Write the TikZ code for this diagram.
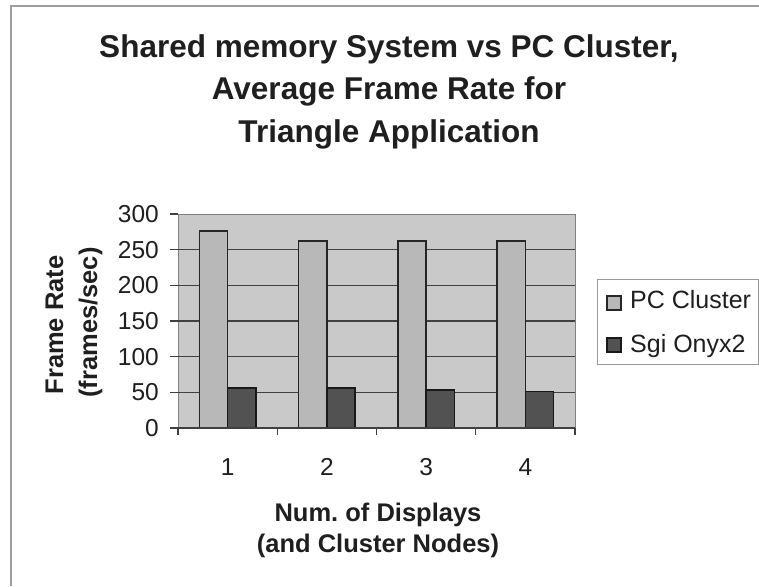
\documentclass[tikz,border=0pt]{standalone}
\usepackage{fontspec}
\setmainfont{Liberation Sans}
\frenchspacing
\begin{document}
\begin{tikzpicture}[x=1pt,y=-1pt,
  every node/.style={text=black!88, inner sep=0pt},
  titlefont/.style={font=\fontsize{31.5}{38}\selectfont\bfseries},
  axtitle/.style={font=\fontsize{25.5}{30}\selectfont\bfseries},
  ticklab/.style={font=\fontsize{24.5}{29}\selectfont},
  legendlab/.style={font=\fontsize{25}{30}\selectfont},
  gridline/.style={draw=black!75, line width=1.1pt},
  axisline/.style={draw=black!75, line width=1.2pt},
  pcbar/.style={fill=black!28, draw=black!85, line width=1.5pt},
  sgibar/.style={fill=black!68, draw=black!90, line width=1.5pt},
]
\useasboundingbox (0,0) rectangle (759,586);
\fill[white] (0,0) rectangle (759,586);

% outer chart frame
\draw[black!38, line width=2pt] (11,586) -- (11,6) -- (759,6);

% title
\node[titlefont, anchor=base] (t1) at (389,57) {Shared memory System vs PC Cluster,};
\node[titlefont, anchor=base] (t2) at (389,99.5) {Average Frame Rate for};
\node[titlefont, anchor=base] (t3) at (389,142) {Triangle Application};

% plot area: value v sits at y = 428 - 0.71333 v
\fill[black!21] (178,214) rectangle (575,428);
\draw[black!50, line width=1pt] (178,428) -- (178,214) -- (575,214) -- (575,428);

% horizontal grid lines and value labels
\foreach \v in {50,100,...,250}
  \draw[gridline] (178,{428-0.71333*\v}) -- (575,{428-0.71333*\v});
\foreach \v in {0,50,...,300} {
  \draw[axisline] (170,{428-0.71333*\v}) -- (178,{428-0.71333*\v});
  \node[ticklab, anchor=east] (y\v) at (159,{428-0.71333*\v}) {\v};
}

% bars: PC Cluster and Sgi Onyx2 per number of displays
\foreach \i/\pc/\sg in {0/276/56, 1/262/56, 2/262/53, 3/262/51} {
  \pgfmathsetmacro{\xa}{178+99.25*\i+21.3}
  \pgfmathsetmacro{\xb}{178+99.25*\i+49.6}
  \pgfmathsetmacro{\xc}{178+99.25*\i+77.9}
  \pgfmathsetmacro{\ya}{428-0.71333*\pc}
  \pgfmathsetmacro{\yb}{428-0.71333*\sg}
  \draw[pcbar] (\xa,428) rectangle (\xb,\ya);
  \draw[sgibar] (\xb,428) rectangle (\xc,\yb);
}

% category axis
\draw[axisline] (178,428) -- (575,428);
\foreach \i in {0,...,4}
  \draw[axisline] ({178+99.25*\i},428) -- ({178+99.25*\i},435);
\foreach \i in {1,...,4}
  \node[ticklab, anchor=base] (x\i) at ({178+99.25*(\i-0.5)},475) {\i};

% axis titles
\node[axtitle, anchor=base] (xt1) at (378,521) {Num. of Displays};
\node[axtitle, anchor=base] (xt2) at (378,552) {(and Cluster Nodes)};
\node[axtitle, anchor=base, rotate=90] (yt1) at (63,325) {Frame Rate};
\node[axtitle, anchor=base, rotate=90] (yt2) at (97,322.5) {(frames/sec)};

% legend
\node[draw=black!40, line width=1pt, minimum width=161pt, minimum height=85pt,
      anchor=north west] (legend) at (597,279) {};
\draw[pcbar, line width=1.2pt] (607,296) rectangle (621,310);
\draw[sgibar, line width=1.2pt] (607,338) rectangle (621,352);
\node[legendlab, anchor=base west] (lpc) at (630,308) {PC Cluster};
\node[legendlab, anchor=base west] (lsg) at (630,352) {Sgi Onyx2};
\end{tikzpicture}
\end{document}
